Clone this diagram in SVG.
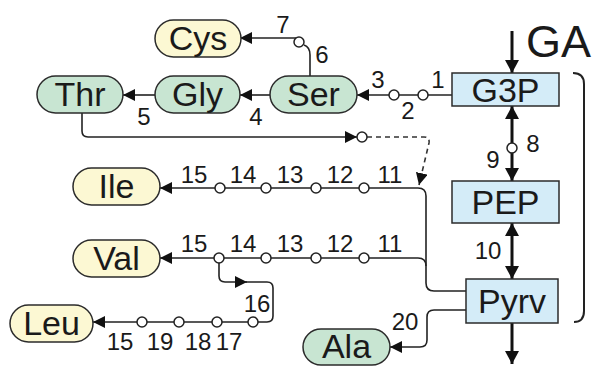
<svg xmlns="http://www.w3.org/2000/svg" width="594" height="366" viewBox="0 0 594 366">
<defs>
<style>
.pill{stroke:#2b2b2b;stroke-width:1.5}
.y{fill:#fcf8d3}
.g{fill:#c8e5d2}
.b{fill:#d4ecf8;stroke:#2b2b2b;stroke-width:1.5}
.lbl{font-family:"Liberation Sans",Arial,sans-serif;font-size:34px;fill:#1a1a1a;text-anchor:middle}
.num{font-family:"Liberation Sans",Arial,sans-serif;font-size:24px;fill:#1a1a1a;text-anchor:middle}
.ln{fill:none;stroke:#222;stroke-width:1.6}
.th{fill:none;stroke:#111;stroke-width:3}
.dash{fill:none;stroke:#333;stroke-width:1.6;stroke-dasharray:5 4}
.c{fill:#fff;stroke:#222;stroke-width:1.5}
</style>
<marker id="a" markerUnits="userSpaceOnUse" markerWidth="12" markerHeight="12" refX="12" refY="6" orient="auto"><path d="M0,0 L12,6 L0,12 z" fill="#111"/></marker>
<marker id="t" markerUnits="userSpaceOnUse" markerWidth="14" markerHeight="14" refX="13" refY="7" orient="auto-start-reverse"><path d="M0,0 L13,7 L0,14 z" fill="#111"/></marker>
</defs>

<g id="connectors">
<line class="ln" x1="452" y1="95" x2="357" y2="95" marker-end="url(#a)"/>
<line class="ln" x1="270" y1="95" x2="240" y2="95" marker-end="url(#a)"/>
<line class="ln" x1="155" y1="95" x2="123" y2="95" marker-end="url(#a)"/>
<path class="ln" d="M310,76 V55 Q310,47 304,45"/>
<line class="ln" x1="296" y1="38" x2="240" y2="38" marker-end="url(#a)"/>
<path class="ln" d="M82,113 V131 Q82,137 88,137 H357" marker-end="url(#a)"/>
<path class="dash" d="M367,137 H424 Q430,137 429,143 L419,185" marker-end="url(#a)"/>
<path class="ln" d="M466,291 H434 Q426,291 426,283 V196 Q426,188 418,188 H160" marker-end="url(#a)"/>
<path class="ln" d="M426,266 Q426,258 418,258 H160" marker-end="url(#a)"/>
<path class="ln" d="M219,258 V276 Q219,282 225,282 H247" marker-end="url(#a)"/>
<path class="ln" d="M245,282 H267 Q273,282 273,288 V316 Q273,322 267,322 H93" marker-end="url(#a)"/>
<path class="ln" d="M466,310 H434 Q427,310 427,317 V340 Q427,347 420,347 H390" marker-end="url(#a)"/>
<line class="th" x1="512" y1="106" x2="512" y2="181" marker-start="url(#t)" marker-end="url(#t)"/>
<line class="th" x1="512" y1="223" x2="512" y2="279" marker-start="url(#t)" marker-end="url(#t)"/>
<line class="th" x1="512" y1="323" x2="512" y2="364" marker-end="url(#t)"/>
<line class="th" x1="512" y1="31" x2="512" y2="73" marker-end="url(#t)"/>
<path fill="none" stroke="#222" stroke-width="2" d="M573,73 Q584,73 584,84 V311 Q584,322 574,322"/>
<circle class="c" cx="423" cy="95" r="5"/>
<circle class="c" cx="394" cy="95" r="5"/>
<circle class="c" cx="299" cy="42" r="5"/>
<circle class="c" cx="362" cy="137" r="5"/>
<circle class="c" cx="220" cy="188" r="5"/>
<circle class="c" cx="266" cy="188" r="5"/>
<circle class="c" cx="316" cy="188" r="5"/>
<circle class="c" cx="364" cy="188" r="5"/>
<circle class="c" cx="219" cy="258" r="5"/>
<circle class="c" cx="266" cy="258" r="5"/>
<circle class="c" cx="316" cy="258" r="5"/>
<circle class="c" cx="364" cy="258" r="5"/>
<circle class="c" cx="253" cy="322" r="5"/>
<circle class="c" cx="217" cy="322" r="5"/>
<circle class="c" cx="179" cy="322" r="5"/>
<circle class="c" cx="142" cy="322" r="5"/>
<circle class="c" cx="512" cy="148" r="5"/>
</g>

<g id="labels">
<text class="num" x="438" y="88">1</text>
<text class="num" x="408" y="119">2</text>
<text class="num" x="378" y="88">3</text>
<text class="num" x="256" y="125">4</text>
<text class="num" x="144" y="125">5</text>
<text class="num" x="322" y="63">6</text>
<text class="num" x="283" y="33">7</text>
<text class="num" x="533" y="152">8</text>
<text class="num" x="493" y="168">9</text>
<text class="num" x="488" y="259">10</text>
<text class="num" x="194" y="183">15</text>
<text class="num" x="243" y="183">14</text>
<text class="num" x="290" y="183">13</text>
<text class="num" x="340" y="183">12</text>
<text class="num" x="390" y="183">11</text>
<text class="num" x="194" y="252">15</text>
<text class="num" x="243" y="252">14</text>
<text class="num" x="290" y="252">13</text>
<text class="num" x="340" y="252">12</text>
<text class="num" x="390" y="252">11</text>
<text class="num" x="257" y="312">16</text>
<text class="num" x="120" y="350">15</text>
<text class="num" x="160" y="350">19</text>
<text class="num" x="198" y="350">18</text>
<text class="num" x="229" y="350">17</text>
<text class="num" x="405" y="330">20</text>
<text x="526" y="57" font-family="'Liberation Sans',Arial,sans-serif" font-size="45" fill="#1a1a1a">GA</text>
</g>

<g id="Cys"><rect class="pill y" x="155" y="20" width="86" height="37" rx="18.5"/><text class="lbl" x="198" y="50">Cys</text></g>
<g id="Thr"><rect class="pill g" x="37" y="76" width="86" height="37" rx="18.5"/><text class="lbl" x="80" y="106">Thr</text></g>
<g id="Gly"><rect class="pill g" x="155" y="76" width="85" height="37" rx="18.5"/><text class="lbl" x="197.5" y="106">Gly</text></g>
<g id="Ser"><rect class="pill g" x="270" y="76" width="87" height="37" rx="18.5"/><text class="lbl" x="313.5" y="106">Ser</text></g>
<g id="Ile"><rect class="pill y" x="73" y="168" width="87" height="37" rx="18.5"/><text class="lbl" x="116.5" y="198">Ile</text></g>
<g id="Val"><rect class="pill y" x="73" y="240" width="87" height="37" rx="18.5"/><text class="lbl" x="116.5" y="270">Val</text></g>
<g id="Leu"><rect class="pill y" x="10" y="305" width="83" height="37" rx="18.5"/><text class="lbl" x="51.5" y="335">Leu</text></g>
<g id="Ala"><rect class="pill g" x="303" y="329" width="87" height="36" rx="18"/><text class="lbl" x="346.5" y="358">Ala</text></g>
<g id="G3P"><rect class="b" x="452" y="73" width="107" height="33"/><text class="lbl" x="505.5" y="102">G3P</text></g>
<g id="PEP"><rect class="b" x="452" y="181" width="107" height="42"/><text class="lbl" x="505.5" y="214">PEP</text></g>
<g id="Pyrv"><rect class="b" x="466" y="279" width="92" height="44"/><text class="lbl" x="512" y="313">Pyrv</text></g>
</svg>
